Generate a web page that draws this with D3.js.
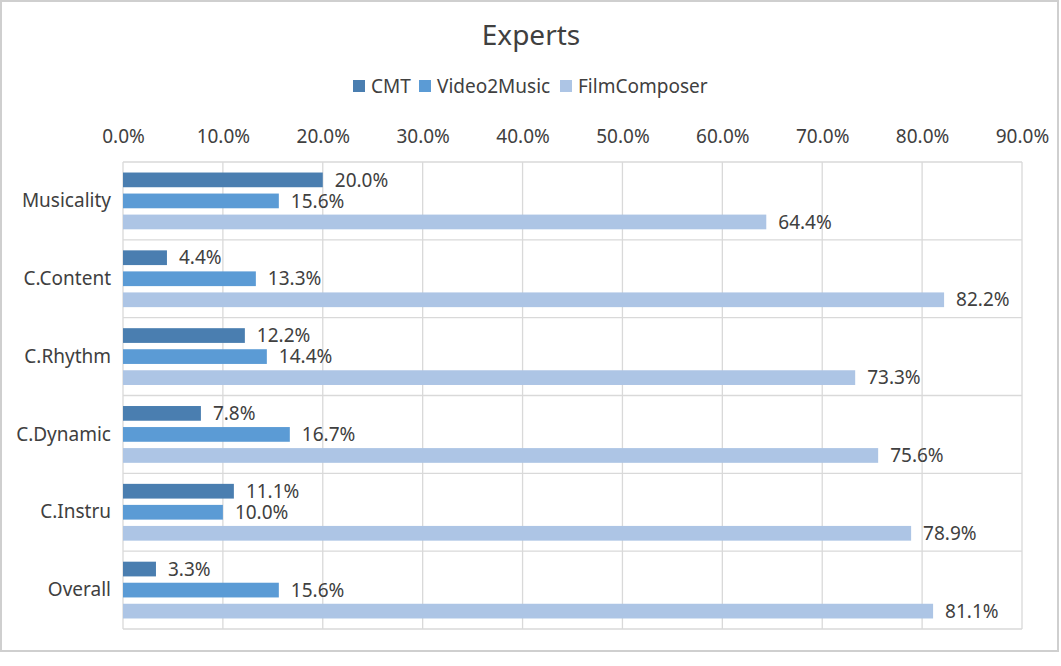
<!DOCTYPE html>
<html>
<head>
<meta charset="utf-8">
<script src="https://cdn.jsdelivr.net/npm/d3@7"></script>
<style>
  body { margin: 0; background: #fff; }
  text { font-family: "Noto Sans", "Open Sans", sans-serif; fill: #404040; }
</style>
</head>
<body>
<svg id="chart" width="1061" height="666"></svg>
<script>
// chart data (percent)
var categories = ["Musicality", "C.Content", "C.Rhythm", "C.Dynamic", "C.Instru", "Overall"];
var seriesNames = ["CMT", "Video2Music", "FilmComposer"];
var cmtValues = [20.0, 4.4, 12.2, 7.8, 11.1, 3.3];
var video2musicValues = [15.6, 13.3, 14.4, 16.7, 10.0, 15.6];
var filmcomposerValues = [64.4, 82.2, 73.3, 75.6, 78.9, 81.1];
var xTicks = [0, 10, 20, 30, 40, 50, 60, 70, 80, 90];

var colors = ["#4a7eb0", "#5b9bd5", "#adc5e5"];
var seriesValues = [cmtValues, video2musicValues, filmcomposerValues];

var svg = d3.select("#chart");

var plot = { left: 123, right: 1022, top: 162, bottom: 629 };

// outer border
svg.append("rect")
    .attr("x", 1).attr("y", 1)
    .attr("width", 1057).attr("height", 650)
    .attr("fill", "#fff")
    .attr("stroke", "#cfcfcf")
    .attr("stroke-width", 2);

// title
svg.append("text")
    .attr("x", 531).attr("y", 45)
    .attr("text-anchor", "middle")
    .style("font-size", "28px")
    .text("Experts");

var xScale = d3.scaleLinear().domain([0, 90]).range([plot.left, plot.right]);
var yScale = d3.scaleBand().domain(categories).range([plot.top, plot.bottom]);
var ySub = d3.scaleBand().domain(seriesNames)
    .range([0, yScale.bandwidth()])
    .paddingInner(0.3).paddingOuter(0.5);

// vertical gridlines
svg.append("g").selectAll("line")
    .data(xTicks)
    .join("line")
    .attr("x1", function(d) { return xScale(d); })
    .attr("x2", function(d) { return xScale(d); })
    .attr("y1", plot.top).attr("y2", plot.bottom)
    .attr("stroke", "#d9d9d9").attr("stroke-width", 1.3);

// horizontal category lines
var bounds = categories.map(function(c) { return yScale(c); }).concat([plot.bottom]);
svg.append("g").selectAll("line")
    .data(bounds)
    .join("line")
    .attr("x1", plot.left).attr("x2", plot.right)
    .attr("y1", function(d) { return d; })
    .attr("y2", function(d) { return d; })
    .attr("stroke", "#d9d9d9").attr("stroke-width", 1.3);

// top x axis labels
var xAxis = svg.append("g")
    .attr("transform", "translate(0," + plot.top + ")")
    .call(d3.axisTop(xScale)
        .tickValues(xTicks)
        .tickSize(0)
        .tickPadding(19)
        .tickFormat(function(d) { return d3.format(".1f")(d) + "%"; }));
xAxis.select(".domain").remove();
xAxis.selectAll("text")
    .style("font-size", "19px")
    .style("font-family", "'Noto Sans', 'Open Sans', sans-serif")
    .attr("fill", "#404040");

// category labels
var yAxis = svg.append("g")
    .attr("transform", "translate(" + plot.left + ",0)")
    .call(d3.axisLeft(yScale).tickSize(0).tickPadding(12));
yAxis.select(".domain").remove();
yAxis.selectAll("text")
    .style("font-size", "19px")
    .style("font-family", "'Noto Sans', 'Open Sans', sans-serif")
    .attr("fill", "#404040");

// bars
seriesNames.forEach(function(name, si) {
  var rows = categories.map(function(c, i) { return { cat: c, v: seriesValues[si][i] }; });
  var g = svg.append("g");
  g.selectAll("rect")
      .data(rows)
      .join("rect")
      .attr("x", xScale(0))
      .attr("y", function(d) { return yScale(d.cat) + ySub(name); })
      .attr("width", function(d) { return xScale(d.v) - xScale(0); })
      .attr("height", ySub.bandwidth())
      .attr("fill", colors[si]);
  g.selectAll("text")
      .data(rows)
      .join("text")
      .attr("x", function(d) { return xScale(d.v) + 12; })
      .attr("y", function(d) { return yScale(d.cat) + ySub(name) + ySub.bandwidth() / 2; })
      .attr("dy", "0.35em")
      .style("font-size", "19px")
      .text(function(d) { return d3.format(".1f")(d.v) + "%"; });
});

// legend
var legendX = [353, 419, 560];
var legend = svg.append("g").selectAll("g")
    .data(seriesNames)
    .join("g")
    .attr("transform", function(d, i) { return "translate(" + legendX[i] + ",80)"; });
legend.append("rect")
    .attr("width", 12).attr("height", 12)
    .attr("fill", function(d, i) { return colors[i]; });
legend.append("text")
    .attr("x", 18).attr("y", 6)
    .attr("dy", "0.35em")
    .style("font-size", "19px")
    .text(function(d) { return d; });
</script>
</body>
</html>
